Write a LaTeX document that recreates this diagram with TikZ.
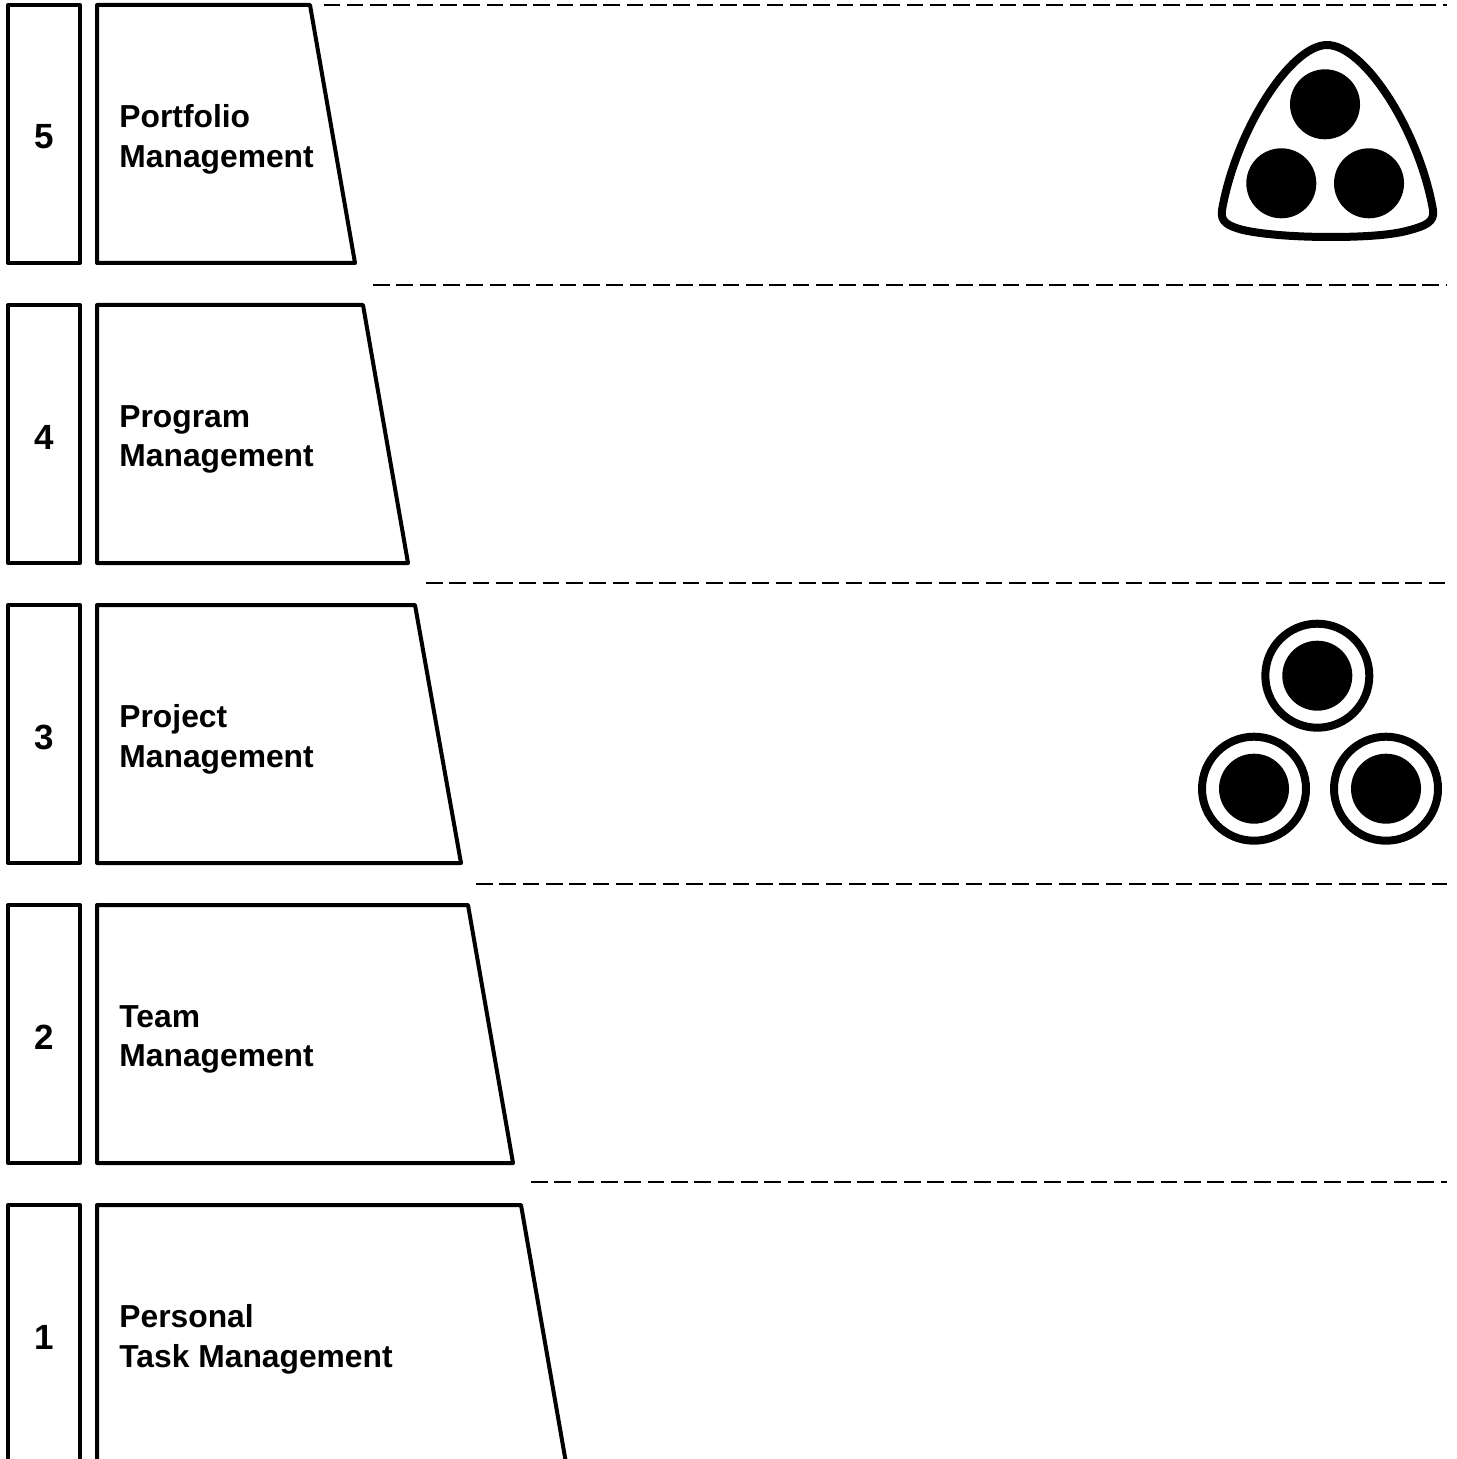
\documentclass[tikz,border=0pt]{standalone}
\usepackage{fontspec}
\setmainfont{Liberation Sans}
\tikzset{
  px/.style={x=0.5pt,y=-0.5pt},
  outline/.style={draw=black,line width=2pt,line join=round,fill=white},
  levelnum/.style={font=\bfseries\fontsize{17.5}{19}\selectfont,inner sep=0pt,anchor=center},
  levelname/.style={font=\bfseries\fontsize{15.9}{19.75}\selectfont,inner sep=0pt,align=left,anchor=west},
  divider/.style={draw=black,line width=1.4pt,dash pattern=on 8.33pt off 3.33pt},
  dot/.style={circle,fill=black,draw=none,minimum size=35pt,inner sep=0pt},
  ring/.style={circle,draw=black,line width=4pt,fill=white,minimum size=52pt,inner sep=0pt},
}
\begin{document}
\begin{tikzpicture}[px]
\useasboundingbox (0,0) rectangle (1456,1459);
\begin{scope}
\clip (0,0) rectangle (1456,1459);
\foreach \lvl/\top/\rtop/\rbot/\first/\second in {
  5/5/310/355/Portfolio/Management,
  4/305/363/408/Program/Management,
  3/605/415/461/Project/Management,
  2/905/468/513/Team/Management,
  1/1205/521/566/Personal/Task Management}{
  \draw[outline] (8,\top) rectangle (80,\top+258);
  \draw[outline] (97,\top) -- (\rtop,\top) -- (\rbot,\top+258) -- (97,\top+258) -- cycle;
  \node[levelnum] (num\lvl) at (44,\top+132) {\lvl};
  \node[levelname] (name\lvl) at (119,\top+134.5) {\first\\\second};
}
\end{scope}
\foreach \n/\xa/\yy in {a/323.5/5,b/373/285,c/426/583,d/476/884,e/531/1182}{
  \coordinate (dl\n) at (\xa,\yy);
  \coordinate (dr\n) at (1446.5,\yy);
  \draw[divider] (dl\n) -- (dr\n);
}
% portfolio icon
\draw[draw=black,line width=4pt,line join=round,fill=white]
  (1327,45) .. controls (1364,45) and (1419,130) .. (1433,210)
  .. controls (1435,222) and (1425,226) .. (1410,230)
  .. controls (1390,236) and (1355,237) .. (1330,237)
  .. controls (1300,237) and (1265,235) .. (1243,230)
  .. controls (1228,226) and (1220,222) .. (1222,210)
  .. controls (1236,130) and (1291,45) .. (1327,45) -- cycle;
\node[dot] (pa) at (1325,104.3) {};
\node[dot] (pb) at (1281.3,183.3) {};
\node[dot] (pc) at (1369,183.3) {};
% project icon
\foreach \n/\cx/\cy in {a/1317.3/675.7,b/1254/788.7,c/1386/788.7}{
  \node[ring] (r\n) at (\cx,\cy) {};
  \node[dot] (d\n) at (\cx,\cy) {};
}
\end{tikzpicture}
\end{document}
